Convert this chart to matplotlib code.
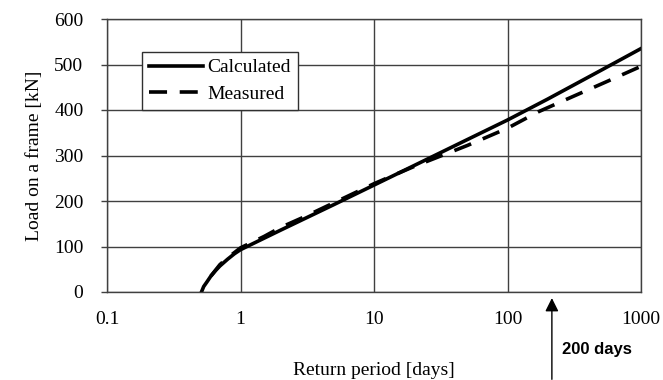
import matplotlib
matplotlib.use('Agg')
import matplotlib.pyplot as plt
import matplotlib.transforms as mtransforms

# values
period_calc = [0.51, 0.53, 0.56, 0.6, 0.65, 0.7, 0.8, 0.9, 1, 2, 5, 10, 20, 50, 100, 200, 500, 1000]
load_calc = [0, 12, 22, 35, 47, 57, 72, 84, 93, 136, 192, 235, 278, 335, 378, 424, 487, 535]

period_meas = [0.6, 0.7, 0.8, 1, 1.5, 2, 3, 5, 10, 20, 50, 100, 170, 300, 540, 1000]
load_meas = [35, 60, 75, 97, 122, 142, 165, 196, 238, 276, 322, 360, 396, 428, 461, 496]

x_ticks = [0.1, 1, 10, 100, 1000]
x_ticklabels = ['0.1', '1', '10', '100', '1000']
y_ticks = [0, 100, 200, 300, 400, 500, 600]

arrow_x = 215
arrow_label = '200 days'

plt.rcParams['font.family'] = 'Liberation Serif'
plt.rcParams['font.size'] = 14

fig = plt.figure(figsize=(6.63, 3.8), dpi=100)
ax = fig.add_axes([107 / 663, 88 / 380, 534 / 663, 273 / 380])

ax.plot(period_calc, load_calc, color='black', lw=2.6, label='Calculated')
ax.plot(period_meas, load_meas, color='black', lw=2.6, linestyle=(0, (5, 3.5)), label='Measured')

ax.set_xscale('log')
ax.set_xlim(0.1, 1000)
ax.set_ylim(0, 600)
ax.set_xticks(x_ticks)
ax.set_xticklabels(x_ticklabels)
ax.minorticks_off()
ax.set_yticks(y_ticks)
ax.grid(True, color='#404040', lw=1)
ax.set_axisbelow(True)
for s in ax.spines.values():
    s.set_color('#404040')
    s.set_linewidth(1)
ax.tick_params(axis='x', length=0, pad=14)
ax.tick_params(axis='y', length=4, width=1, color='#404040', pad=13)

ax.set_xlabel('Return period [days]', labelpad=24)
ax.set_ylabel('Load on a frame [kN]', labelpad=8)

leg = ax.legend(loc='upper left', bbox_to_anchor=(0.066, 0.879), borderaxespad=0,
                handlelength=2.8, handletextpad=0.2, borderpad=0.35, labelspacing=0.45,
                fancybox=False, framealpha=1, edgecolor='#303030')
leg.get_frame().set_linewidth(1)

trans = mtransforms.blended_transform_factory(ax.transData, ax.transAxes)
ax.annotate('', xy=(arrow_x, -0.012), xytext=(arrow_x, -0.33),
            xycoords=trans, textcoords=trans,
            arrowprops=dict(arrowstyle='-|>', color='black', lw=1, mutation_scale=20),
            annotation_clip=False)
ax.text(arrow_x * 1.2, -0.21, arrow_label, transform=trans, family='Liberation Sans',
        fontweight='bold', fontsize=12, va='center', ha='left')

fig.savefig('out.png', dpi=100)
